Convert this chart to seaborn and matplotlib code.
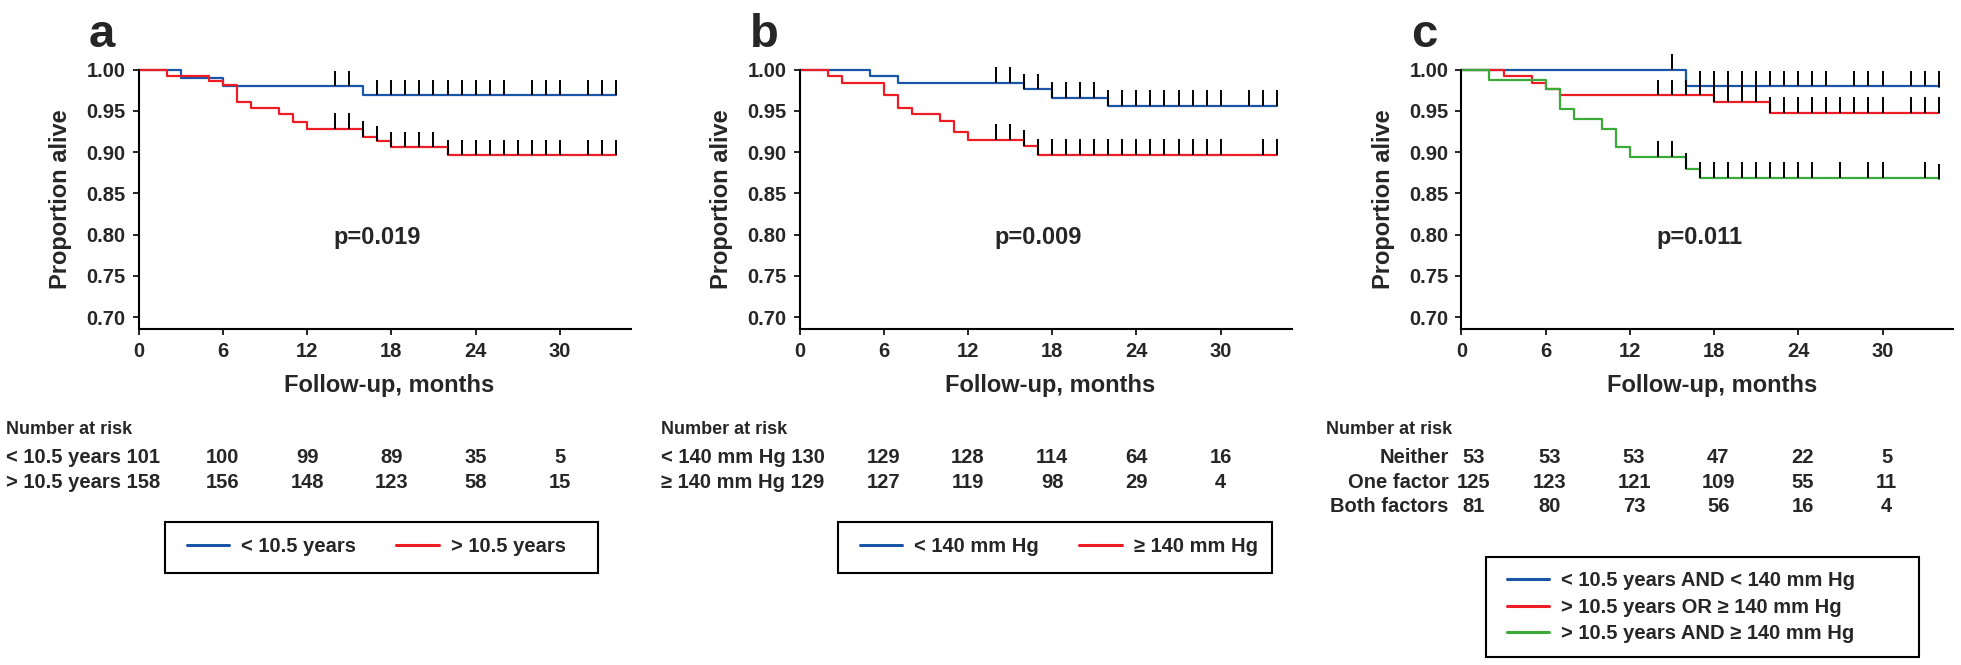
import numpy as np
import matplotlib
matplotlib.use('Agg')
import matplotlib.pyplot as plt
import matplotlib.transforms as mtransforms
from matplotlib.patches import Rectangle
import seaborn as sns

sns.set_theme(style='ticks')
plt.rcParams['font.family'] = ['Liberation Sans', 'DejaVu Sans']

BLUE = '#1a56a8'
RED = '#ee1c24'
GREEN = '#3aaa38'

# Panel a: age at diagnosis
a_young_t = [0, 3, 6, 16, 34]
a_young_s = [1.0, 0.990, 0.980, 0.969, 0.969]
a_young_cens = [14, 15, 17, 18, 19, 20, 21, 22, 23, 24, 25, 26, 28, 29, 30, 32, 33, 34]
a_old_t = [0, 2, 5, 6, 7, 8, 10, 11, 12, 16, 17, 18, 22, 34]
a_old_s = [1.0, 0.992, 0.986, 0.981, 0.961, 0.954, 0.946, 0.936, 0.928, 0.919, 0.913, 0.906, 0.896, 0.896]
a_old_cens = [14, 15, 16, 17, 18, 19, 20, 21, 22, 23, 24, 25, 26, 27, 28, 29, 30, 32, 33, 34]

# Panel b: blood pressure
b_low_t = [0, 5, 7, 16, 18, 22, 34]
b_low_s = [1.0, 0.992, 0.984, 0.976, 0.966, 0.956, 0.956]
b_low_cens = [14, 15, 16, 17, 18, 19, 20, 21, 22, 23, 24, 25, 26, 27, 28, 29, 30, 32, 33, 34]
b_high_t = [0, 2, 3, 6, 7, 8, 10, 11, 12, 16, 17, 34]
b_high_s = [1.0, 0.992, 0.984, 0.969, 0.953, 0.946, 0.938, 0.924, 0.915, 0.908, 0.897, 0.897]
b_high_cens = [14, 15, 16, 17, 18, 19, 20, 21, 22, 23, 24, 25, 26, 27, 28, 29, 30, 33, 34]

# Panel c: combined
c_none_t = [0, 16, 34]
c_none_s = [1.0, 0.980, 0.979]
c_none_cens = [15, 17, 18, 19, 20, 21, 22, 23, 24, 25, 26, 28, 29, 30, 32, 33, 34]
c_one_t = [0, 3, 5, 6, 7, 18, 22, 34]
c_one_s = [1.0, 0.992, 0.984, 0.976, 0.969, 0.961, 0.948, 0.948]
c_one_cens = [14, 15, 16, 17, 18, 19, 20, 21, 22, 23, 24, 25, 26, 27, 28, 29, 30, 32, 33, 34]
c_both_t = [0, 2, 6, 7, 8, 10, 11, 12, 16, 17, 34]
c_both_s = [1.0, 0.988, 0.976, 0.952, 0.940, 0.928, 0.906, 0.894, 0.880, 0.869, 0.867]
c_both_cens = [14, 15, 16, 17, 18, 19, 20, 21, 22, 23, 24, 25, 27, 29, 30, 33, 34]

risk_months = [0, 6, 12, 18, 24, 30]
a_labels = ['< 10.5 years', '> 10.5 years']
a_risk = [[101, 100, 99, 89, 35, 5], [158, 156, 148, 123, 58, 15]]
b_labels = ['< 140 mm Hg', '\u2265 140 mm Hg']
b_risk = [[130, 129, 128, 114, 64, 16], [129, 127, 119, 98, 29, 4]]
c_labels = ['Neither', 'One factor', 'Both factors']
c_risk = [[53, 53, 53, 47, 22, 5], [125, 123, 121, 109, 55, 11], [81, 80, 73, 56, 16, 4]]

a_legend = ['< 10.5 years', '> 10.5 years']
b_legend = ['< 140 mm Hg', '\u2265 140 mm Hg']
c_legend = ['< 10.5 years AND < 140 mm Hg', '> 10.5 years OR \u2265 140 mm Hg',
            '> 10.5 years AND \u2265 140 mm Hg']
p_values = ['p=0.019', 'p=0.009', 'p=0.011']

W, H = 1961, 665
fig = plt.figure(figsize=(W / 100, H / 100), dpi=100)
lefts = [138.7 / W, 799.5 / W, 1461.4 / W]
axes = [fig.add_axes([l, 1 - 328.7 / H, 492 / W, 259 / H]) for l in lefts]


def km(ax, t, s, cens, color, label):
    sns.lineplot(x=np.array(t, float), y=np.array(s), drawstyle='steps-post', color=color,
                 lw=1.6, label=label, ax=ax, estimator=None, sort=False, clip_on=False)
    idx = np.searchsorted(t, cens, side='right') - 1
    lvl = np.array(s)[idx]
    ax.vlines(cens, lvl, lvl + 0.019, color='black', lw=1.4, clip_on=False, zorder=3)


km(axes[0], a_young_t, a_young_s, a_young_cens, BLUE, a_legend[0])
km(axes[0], a_old_t, a_old_s, a_old_cens, RED, a_legend[1])
km(axes[1], b_low_t, b_low_s, b_low_cens, BLUE, b_legend[0])
km(axes[1], b_high_t, b_high_s, b_high_cens, RED, b_legend[1])
km(axes[2], c_none_t, c_none_s, c_none_cens, BLUE, c_legend[0])
km(axes[2], c_one_t, c_one_s, c_one_cens, RED, c_legend[1])
km(axes[2], c_both_t, c_both_s, c_both_cens, GREEN, c_legend[2])

for ax, letter, p in zip(axes, ['a', 'b', 'c'], p_values):
    ax.set_xlim(0, 35.05)
    ax.set_ylim(0.686, 1.0)
    ax.set_xticks([0, 6, 12, 18, 24, 30])
    ax.set_yticks([0.70, 0.75, 0.80, 0.85, 0.90, 0.95, 1.00])
    ax.set_yticklabels(['%.2f' % v for v in ax.get_yticks()])
    sns.despine(ax=ax)
    for sp in ['left', 'bottom']:
        ax.spines[sp].set_linewidth(1.5)
        ax.spines[sp].set_color('black')
    ax.tick_params(axis='both', length=4.3, width=1.2, color='black', labelsize=14.5, pad=5)
    for lab in ax.get_xticklabels() + ax.get_yticklabels():
        lab.set_fontweight('bold')
    ax.set_xlabel('Follow-up, months', fontsize=17, fontweight='bold')
    ax.set_ylabel('Proportion alive', fontsize=17, fontweight='bold')
    ax.xaxis.set_label_coords(0.51, -0.175)
    ax.yaxis.set_label_coords(-0.1356, 0.5)
    ax.text(17, 0.797, p, ha='center', va='center', fontsize=17, fontweight='bold')
    x0 = ax.get_position().x0
    fig.text(x0 - 50 / W, 1 - 47 / H, letter, fontsize=34, fontweight='bold', va='baseline')

# Number at risk tables
head_y = 1 - 430 / H
row_y = [1 - 457.2 / H, 1 - 482.2 / H, 1 - 506.4 / H]
for ax, left, labels, risk in [(axes[0], 6.4 / W, a_labels, a_risk), (axes[1], 661 / W, b_labels, b_risk)]:
    fig.text(left, head_y, 'Number at risk', fontsize=13, fontweight='bold', va='center')
    tr = mtransforms.blended_transform_factory(ax.transData, fig.transFigure)
    for i, (lab, nums) in enumerate(zip(labels, risk)):
        fig.text(left, row_y[i], '%s %d' % (lab, nums[0]), fontsize=14.5, fontweight='bold', va='center')
        for m, n in zip(risk_months[1:], nums[1:]):
            ax.text(m, row_y[i], str(n), fontsize=14.5, fontweight='bold', ha='center', va='center', transform=tr)

fig.text(1326.5 / W, head_y, 'Number at risk', fontsize=13, fontweight='bold', va='center')
tr = mtransforms.blended_transform_factory(axes[2].transData, fig.transFigure)
for i, (lab, nums) in enumerate(zip(c_labels, c_risk)):
    axes[2].text(-0.9, row_y[i], lab, fontsize=14.5, fontweight='bold', ha='right', va='center', transform=tr)
    axes[2].text(0.9, row_y[i], str(nums[0]), fontsize=14.5, fontweight='bold', ha='center', va='center', transform=tr)
    for m, n in zip(risk_months[1:], nums[1:]):
        axes[2].text(m + 0.3, row_y[i], str(n), fontsize=14.5, fontweight='bold', ha='center', va='center', transform=tr)

# Legends (frame drawn as a separate box)
boxes = [(164.5, 521.6, 433.5, 51), (837.6, 521.6, 434, 51), (1485.6, 556.8, 433, 100.5)]
anchors = [(186.6, 547), (860, 547), (1506.8, 607.3)]
for ax, (bx, by, bw, bh), (lx, ly), ncol in zip(axes, boxes, anchors, [2, 2, 1]):
    fig.add_artist(Rectangle((bx / W, 1 - (by + bh) / H), bw / W, bh / H, transform=fig.transFigure,
                             fill=False, ec='black', lw=1.5))
    h, l = ax.get_legend_handles_labels()
    leg = ax.legend(h, l, loc='center left', bbox_to_anchor=(lx / W, 1 - ly / H),
                    bbox_transform=fig.transFigure, ncol=ncol, frameon=False, borderpad=0,
                    borderaxespad=0, handlelength=2.1, handletextpad=0.6, columnspacing=2.0,
                    labelspacing=0.37, prop={'size': 14.5, 'weight': 'bold'})
    for line in leg.get_lines():
        line.set_linewidth(2.2)

fig.savefig('out.png', dpi=100, facecolor='white')
